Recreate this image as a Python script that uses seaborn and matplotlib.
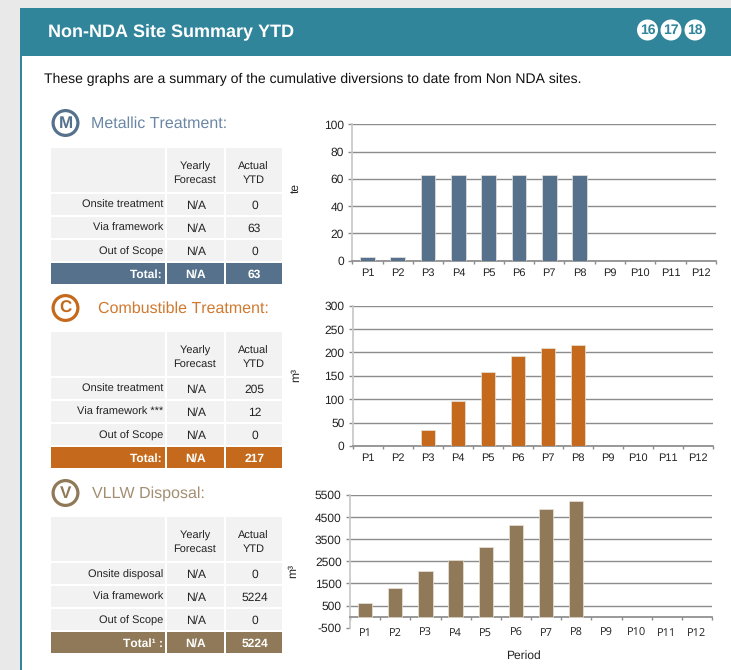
import matplotlib
matplotlib.use("Agg")
import matplotlib.pyplot as plt
from matplotlib.patches import Rectangle, Circle
import pandas as pd
import seaborn as sns

periods = ["P1", "P2", "P3", "P4", "P5", "P6", "P7", "P8", "P9", "P10", "P11", "P12"]
metallic = [3, 3, 63, 63, 63, 63, 63, 63, None, None, None, None]
combustible = [None, None, 35, 96, 159, 192, 209, 217, None, None, None, None]
vllw = [600, 1280, 2070, 2550, 3150, 4150, 4850, 5224, None, None, None, None]

metallic_rows = ["Onsite treatment", "Via framework", "Out of Scope", "Total:"]
metallic_ytd = ["0", "63", "0", "63"]
combustible_rows = ["Onsite treatment", "Via framework ***", "Out of Scope", "Total:"]
combustible_ytd = ["205", "12", "0", "217"]
vllw_rows = ["Onsite disposal", "Via framework", "Out of Scope", "Total¹ :"]
vllw_ytd = ["0", "5224", "0", "5224"]

TEAL = "#30859b"
BLUE = "#56718c"
ORANGE = "#c56a1c"
BROWN = "#8f7958"
CELL = "#f2f2f2"
W, H = 731, 670

sns.set_theme(style="white")
plt.rcParams["font.family"] = ["Liberation Sans", "DejaVu Sans"]
plt.rcParams["text.hinting"] = "no_hinting"
plt.rcParams["text.hinting_factor"] = 1

fig = plt.figure(figsize=(W / 100, H / 100), dpi=100, facecolor="white")

# page background drawn in pixel coordinates
bg = fig.add_axes([0, 0, 1, 1])
bg.set_xlim(0, W)
bg.set_ylim(H, 0)
bg.axis("off")
bg.add_patch(Rectangle((0, 0), W, 8, color="#e9e9e9", lw=0))
bg.add_patch(Rectangle((0, 0), 20, H, color="#e9e9e9", lw=0))
bg.add_patch(Rectangle((20, 8), W - 20, 48, color=TEAL, lw=0))
bg.add_patch(Rectangle((20, 8), 2, H - 8, color=TEAL, lw=0))
bg.text(48, 32, "Non-NDA Site Summary YTD", color="white", fontsize=12.8,
        fontweight="bold", va="center")
bg.text(44, 79, "These graphs are a summary of the cumulative diversions to date from Non NDA sites.",
        color="#111111", fontsize=10.05, va="center")

for cx, num in zip([647.5, 671, 695], ["16", "17", "18"]):
    bg.add_patch(Circle((cx, 30), 10.5, color="white", lw=0))
    bg.text(cx, 30.5, num, color=TEAL, fontsize=10, fontweight="bold",
            ha="center", va="center")


def section(y_icon, letter, title, title_x, y_top, rows, ytd, color, title_color):
    bg.add_patch(Circle((65.5, y_icon), 12.4, fc="white", ec=color, lw=2.3))
    bg.text(65.5, y_icon + 0.5, letter, color=color, fontsize=12, fontweight="bold",
            ha="center", va="center")
    bg.text(title_x, y_icon + 1, title, color=title_color, fontsize=11.6, va="center")

    # header row
    for x0, x1 in [(51, 165), (167, 224), (226, 282)]:
        bg.add_patch(Rectangle((x0, y_top), x1 - x0, 44, color=CELL, lw=0))
    bg.text(195, y_top + 25.5, "Yearly\nForecast", fontsize=7.9, color="#222222",
            ha="center", va="center", linespacing=1.45)
    bg.text(253.5, y_top + 25.5, "Actual\nYTD", fontsize=7.9, color="#222222",
            ha="center", va="center", linespacing=1.45)

    # body rows, the last one is the coloured total
    y = y_top + 46
    for i, (name, val) in enumerate(zip(rows, ytd)):
        total = i == len(rows) - 1
        fc = color if total else CELL
        tc = "white" if total else "#222222"
        fw = "bold" if total else "normal"
        name_size = 8.7 if total else 7.9
        for x0, x1 in [(51, 165), (167, 224), (226, 282)]:
            bg.add_patch(Rectangle((x0, y), x1 - x0, 21, color=fc, lw=0))
        bg.text(163, y + 11.5, name, fontsize=name_size, color=tc, fontweight=fw, ha="right", va="center")
        bg.text(196, y + 11.5, "N/A", fontsize=8.5, color=tc, fontweight=fw, ha="center", va="center")
        bg.text(254.5, y + 11.5, val, fontsize=8.5, color=tc, fontweight=fw, ha="center", va="center")
        y += 23


section(123, "M", "Metallic Treatment:", 91, 148, metallic_rows, metallic_ytd, BLUE, "#6b87a5")
section(308, "C", "Combustible Treatment:", 98.5, 332, combustible_rows, combustible_ytd, ORANGE, "#d07a30")
section(493, "V", "VLLW Disposal:", 91.5, 517, vllw_rows, vllw_ytd, BROWN, "#a38e72")


def chart(values, color, left, right, top, bottom, ymin, ymax, ticks, unit, unit_x, unit_y, label_font, pad):
    ax = fig.add_axes([left / W, 1 - bottom / H, (right - left) / W, (bottom - top) / H])
    ax.patch.set_alpha(0)
    df = pd.DataFrame({"period": periods, "value": pd.to_numeric(pd.Series(values))})
    sns.barplot(data=df, x="period", y="value", color=color, saturation=1, width=0.48,
                edgecolor="#e8e4dc", linewidth=0.5, ax=ax, zorder=3)
    ax.set_xlim(-0.5, 11.5)
    ax.set_ylim(ymin, ymax)
    ax.set_yticks(ticks)
    ax.set_yticklabels([str(t) for t in ticks], fontsize=8.8, color="#222222")
    ax.grid(axis="y", color="#8c8c8c", lw=1, zorder=1)
    ax.set_axisbelow(True)
    ax.tick_params(axis="y", left=True, length=3, width=1, color="#8c8c8c", pad=3)

    for side in ["top", "right"]:
        ax.spines[side].set_visible(False)
    ax.spines["left"].set_color("#c8c8c8")
    ax.spines["bottom"].set_color("#8c8c8c")
    ax.spines["bottom"].set_position(("data", 0))

    # ticks sit between the categories, labels stay below the plot
    ax.set_xticks([i - 0.5 for i in range(13)], minor=True)
    ax.tick_params(axis="x", which="minor", bottom=True, length=2.5, width=1, color="#8c8c8c")
    ax.tick_params(axis="x", which="major", bottom=False, length=0, labelsize=8,
                   labelcolor="#222222", pad=pad)
    for lab in ax.get_xticklabels():
        lab.set_family(label_font)
    ax.set_xlabel("")
    ax.set_ylabel("")
    if ymin < 0:
        ax.get_ygridlines()[0].set_visible(False)
    bg.text(unit_x, unit_y, unit, rotation=90, fontsize=8.6, color="#222222", ha="center", va="center")
    return ax


chart(metallic, BLUE, 352.3, 716, 124.3, 260.7, 0, 100, [0, 20, 40, 60, 80, 100],
      "te", 296, 188, "Liberation Sans", 5.2)
chart(combustible, ORANGE, 352.7, 712.7, 305.7, 446, 0, 300, [0, 50, 100, 150, 200, 250, 300],
      "m³", 296, 375, "Liberation Sans", 5.2)
chart(vllw, BROWN, 350, 712, 495, 627.7, -500, 5500, [-500, 500, 1500, 2500, 3500, 4500, 5500],
      "m³", 293, 571, "Open Sans", 8)
bg.text(523, 656, "Period", fontsize=8.6, color="#222222", ha="center", va="center")

fig.savefig("out.png", dpi=100)
